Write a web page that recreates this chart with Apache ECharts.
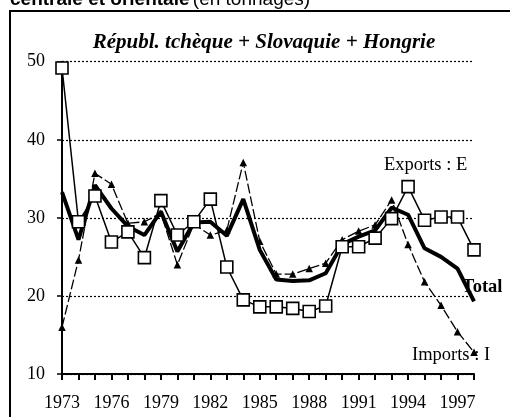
<!DOCTYPE html>
<html>
<head>
<meta charset="utf-8">
<script src="https://cdn.jsdelivr.net/npm/echarts@6/dist/echarts.min.js"></script>
<style>
  html, body { margin: 0; padding: 0; background: #fff; }
  #chart { width: 510px; height: 417px; }
</style>
</head>
<body>
<div id="chart"></div>
<script>
// années 1973-1998
var years = ['1973','1974','1975','1976','1977','1978','1979','1980','1981','1982','1983','1984','1985',
             '1986','1987','1988','1989','1990','1991','1992','1993','1994','1995','1996','1997','1998'];

// Exports : E (carrés)
var exportsE = [49.2, 29.5, 32.8, 26.9, 28.2, 24.9, 32.2, 27.8, 29.5, 32.4, 23.7, 19.5, 18.6,
                18.6, 18.4, 18.0, 18.7, 26.3, 26.3, 27.4, 29.9, 34.0, 29.7, 30.1, 30.1, 25.9];

// Imports : I (triangles, tirets)
var importsI = [16.0, 24.6, 35.7, 34.3, 29.3, 29.5, 30.6, 24.0, 29.2, 27.8, 28.4, 37.1, 27.0,
                22.8, 22.8, 23.5, 24.2, 27.2, 28.3, 29.1, 32.3, 26.6, 21.8, 18.8, 15.4, 12.8];

// Total (trait épais)
var total = [33.3, 27.2, 34.2, 31.2, 28.9, 27.8, 30.8, 25.7, 29.4, 29.5, 27.7, 32.4, 25.9,
             22.1, 21.9, 22.0, 22.9, 26.6, 27.6, 28.4, 31.3, 30.4, 26.1, 25.0, 23.5, 19.3];

var chart = echarts.init(document.getElementById('chart'));

var serif = 'Liberation Serif';

var option = {
    animation: false,
    backgroundColor: '#fff',
    grid: { left: 62, right: 36, top: 61.7, bottom: 43 },
    xAxis: {
        type: 'category',
        data: years,
        boundaryGap: false,
        axisLine: { lineStyle: { color: '#000', width: 2 } },
        axisTick: { interval: 0, length: 6, lineStyle: { color: '#000', width: 2 } },
        axisLabel: { interval: 2, color: '#000', fontFamily: serif, fontSize: 18, margin: 20 },
        splitLine: { show: false }
    },
    yAxis: {
        type: 'value',
        min: 10, max: 50, interval: 10,
        axisLine: { show: true, lineStyle: { color: '#000', width: 2 } },
        axisTick: { show: true, length: 5, lineStyle: { color: '#000', width: 1.5 } },
        axisLabel: { color: '#000', fontFamily: serif, fontSize: 18, margin: 17 },
        splitLine: { lineStyle: { color: '#000', type: [2, 2], width: 1.2 } }
    },
    graphic: [
        { type: 'rect', shape: { x: 10, y: 11, width: 530, height: 440 },
          style: { fill: 'none', stroke: '#000', lineWidth: 2 }, z: 1 },
        { type: 'text', x: 10, y: 9,
          style: { text: '{b|centrale et orientale} {n|(en tonnages)}', verticalAlign: 'bottom',
                   rich: { b: { fontFamily: 'Liberation Sans', fontWeight: 'bold', fontSize: 19, fill: '#000' },
                           n: { fontFamily: 'Liberation Sans', fontSize: 19, fill: '#000' } } } },
        { type: 'text', x: 264, y: 43,
          style: { text: 'Républ. tchèque + Slovaquie + Hongrie', align: 'center', verticalAlign: 'middle',
                   font: 'italic bold 21px "Liberation Serif"', fill: '#000' } },
        { type: 'text', x: 384, y: 165,
          style: { text: 'Exports : E', verticalAlign: 'middle', font: '18.5px "Liberation Serif"', fill: '#000' } },
        { type: 'text', x: 462, y: 287, z: 10,
          style: { text: 'Total', verticalAlign: 'middle', font: 'bold 18.5px "Liberation Serif"', fill: '#000' } },
        { type: 'text', x: 412, y: 355, z: 10,
          style: { text: 'Imports : I', verticalAlign: 'middle', font: '18.5px "Liberation Serif"', fill: '#000' } }
    ],
    series: [
        {
            name: 'Imports : I',
            type: 'line',
            data: importsI,
            symbol: 'triangle',
            symbolSize: 7.5,
            showAllSymbol: true,
            itemStyle: { color: '#000' },
            lineStyle: { color: '#000', width: 1.3, type: [10, 3] },
            z: 3
        },
        {
            name: 'Total',
            type: 'line',
            data: total,
            symbol: 'none',
            lineStyle: { color: '#000', width: 4 },
            z: 4
        },
        {
            name: 'Exports : E',
            type: 'line',
            data: exportsE,
            symbol: 'rect',
            symbolSize: 12,
            showAllSymbol: true,
            itemStyle: { color: '#fff', borderColor: '#000', borderWidth: 1.6 },
            lineStyle: { color: '#000', width: 1.5 },
            z: 5
        }
    ]
};

chart.setOption(option);
</script>
</body>
</html>
